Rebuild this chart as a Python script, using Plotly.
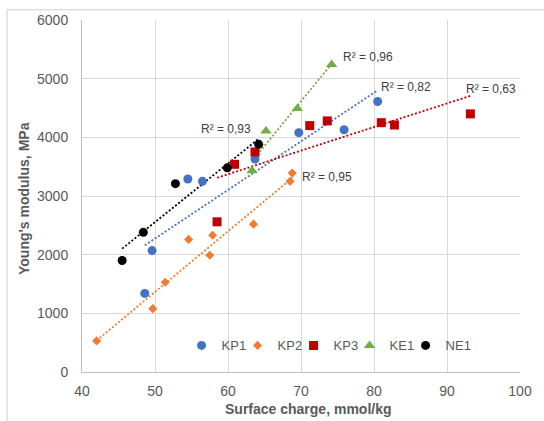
import numpy as np
import plotly.graph_objects as go

# ---- data ----
kp1_x = [48.6, 49.6, 54.5, 56.5, 63.7, 69.7, 75.9, 80.5]
kp1_y = [1340, 2070, 3290, 3250, 3630, 4080, 4130, 4610]
kp2_x = [42.0, 49.7, 51.4, 54.6, 57.5, 57.9, 63.5, 68.5, 68.8]
kp2_y = [530, 1080, 1530, 2260, 1990, 2330, 2520, 3250, 3390]
kp3_x = [58.5, 60.9, 63.7, 71.2, 73.6, 81.0, 82.8, 93.2]
kp3_y = [2560, 3540, 3750, 4200, 4280, 4250, 4210, 4400]
ke1_x = [63.3, 65.2, 69.5, 74.2]
ke1_y = [3430, 4110, 4490, 5240]
ne1_x = [45.5, 48.4, 52.8, 59.9, 64.2]
ne1_y = [1900, 2380, 3210, 3480, 3880]

series_names = ["KP1", "KP2", "KP3", "KE1", "NE1"]
r2_labels = ["R² = 0,82", "R² = 0,95", "R² = 0,63", "R² = 0,96", "R² = 0,93"]
r2_pos_x = [84.4, 73.6, 96.0, 79.2, 59.7]
r2_pos_y = [4854, 3331, 4826, 5377, 4134]

x_ticks = [40, 50, 60, 70, 80, 90, 100]
y_ticks = [0, 1000, 2000, 3000, 4000, 5000, 6000]

colors = ["#4472C4", "#ED7D31", "#C00000", "#70AD47", "#000000"]
symbols = ["circle", "diamond", "square", "triangle-up", "circle"]
sizes = [9, 7, 9, 10, 9]

data = [(kp1_x, kp1_y), (kp2_x, kp2_y), (kp3_x, kp3_y), (ke1_x, ke1_y), (ne1_x, ne1_y)]

FONT = "Liberation Sans, Arial, sans-serif"
GRAY = "#595959"

fig = go.Figure()

# trendlines (linear least squares over each series' x range)
for (xs, ys), c in zip(data, colors):
    xa = np.array(xs); ya = np.array(ys)
    k, b = np.polyfit(xa, ya, 1)
    lx = np.array([xa.min(), xa.max()])
    fig.add_trace(go.Scatter(x=lx, y=k * lx + b, mode="lines",
                             line=dict(color=c, width=1.8, dash="2px,2px"),
                             showlegend=False, hoverinfo="skip"))

for i, ((xs, ys), name, c, s, sz) in enumerate(zip(data, series_names, colors, symbols, sizes)):
    fig.add_trace(go.Scatter(x=xs, y=ys, mode="markers", name=name,
                             legendwidth=(40 if i == len(series_names) - 1 else 11),
                             marker=dict(color=c, symbol=s, size=sz, line=dict(width=0))))

for t, ax_, ay_ in zip(r2_labels, r2_pos_x, r2_pos_y):
    fig.add_annotation(x=ax_, y=ay_, xref="x", yref="y", text=t, showarrow=False,
                       xanchor="center", yanchor="middle",
                       font=dict(family=FONT, size=12, color="#404040"))

L, R, T, B = 81.7, 16.7, 17.3, 48.7
W, H = 544, 421
pw, ph = W - L - R, H - T - B

# axis titles
fig.add_annotation(x=(312 - L) / pw, y=(H - B - 410) / ph, xref="paper", yref="paper",
                   text="<b>Surface charge, mmol/kg</b>", showarrow=False,
                   xanchor="center", yanchor="middle",
                   font=dict(family=FONT, size=14, color=GRAY))
fig.add_annotation(x=(22.5 - L) / pw, y=(H - B - 197) / ph, xref="paper", yref="paper",
                   text="<b>Young's modulus, MPa</b>", showarrow=False, textangle=-90,
                   xanchor="center", yanchor="middle",
                   font=dict(family=FONT, size=14, color=GRAY))

# chart-area border (left and top visible in crop)
fig.add_shape(type="rect", xref="paper", yref="paper",
              x0=(5.5 - L) / pw, x1=(W + 20 - L) / pw,
              y0=-(B + 20) / ph, y1=1 + (T - 7) / ph,
              line=dict(color="#CFCFCF", width=1), fillcolor="rgba(0,0,0,0)", layer="above")

fig.update_layout(
    width=W, height=H,
    margin=dict(l=L, r=R, t=T, b=B, pad=0),
    paper_bgcolor="white", plot_bgcolor="white",
    font=dict(family=FONT, color=GRAY),
    showlegend=True,
    legend=dict(orientation="h", x=(183 - L) / pw, xanchor="left",
                y=(H - B - 345.5) / ph, yanchor="middle",
                itemwidth=30, bgcolor="rgba(0,0,0,0)",
                font=dict(family=FONT, size=13, color=GRAY), tracegroupgap=0),
    xaxis=dict(range=[40, 100], tickvals=x_ticks, showgrid=True, gridcolor="#D9D9D9",
               gridwidth=1, zeroline=False, showline=True, linecolor="#BFBFBF", linewidth=1,
               ticks="", tickfont=dict(family=FONT, size=14, color=GRAY), ticklabelstandoff=6),
    yaxis=dict(range=[0, 6000], tickvals=y_ticks, showgrid=True, gridcolor="#D9D9D9",
               gridwidth=1, zeroline=False, showline=True, linecolor="#BFBFBF", linewidth=1,
               ticks="", tickfont=dict(family=FONT, size=14, color=GRAY), ticklabelstandoff=10),
)

fig.write_html("out.html")
